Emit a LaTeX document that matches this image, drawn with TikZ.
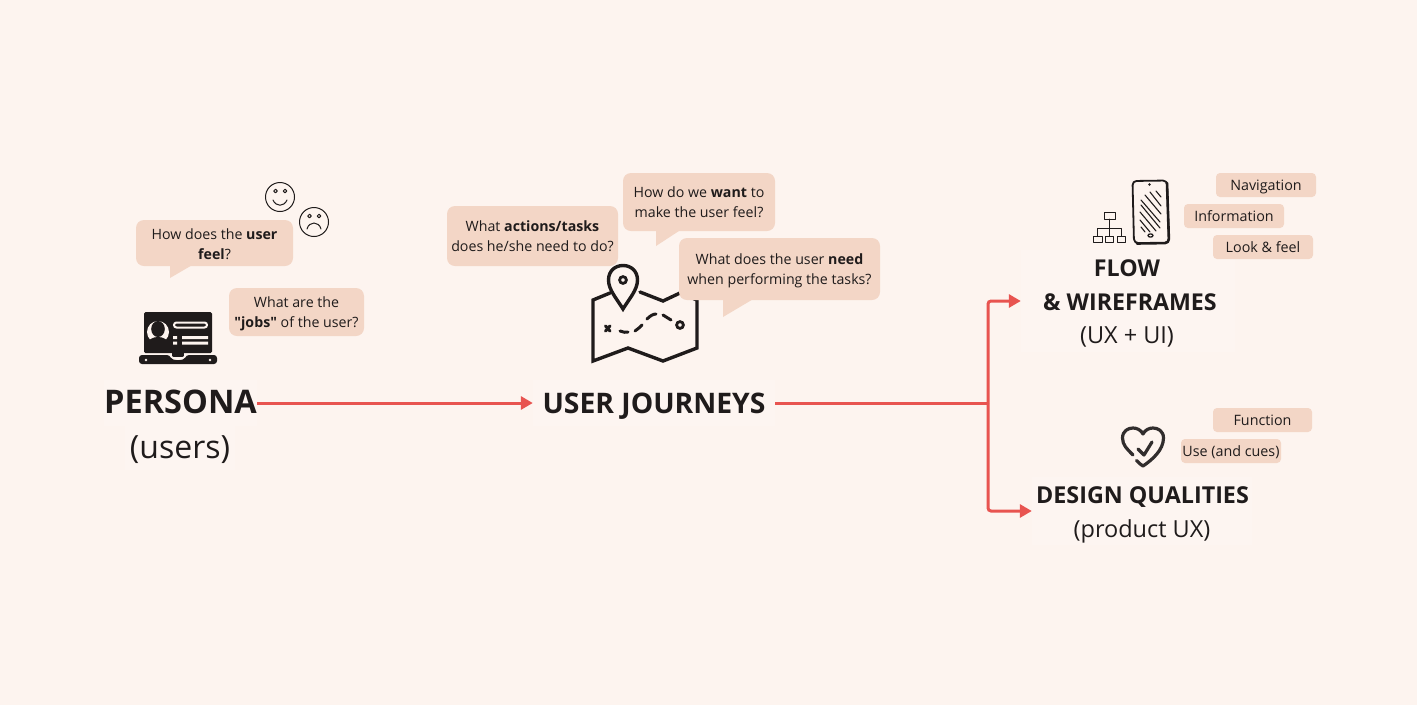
\documentclass[tikz,border=0pt]{standalone}
\usepackage{fontspec}
\setmainfont{Open Sans}[Ligatures=TeXOff]
\usetikzlibrary{arrows.meta}
\definecolor{pagebg}{HTML}{FDF4EF}
\definecolor{softbg}{HTML}{FDF5F1}
\definecolor{bub}{HTML}{F3D6C6}
\definecolor{ink}{HTML}{1F1B1B}
\definecolor{arrowred}{HTML}{E85450}
\newcommand{\fs}[2]{\fontsize{#1}{#2}\selectfont}
\newcommand{\up}[1]{\rule{0pt}{#1pt}}
\tikzset{
  x=1pt,y=-1pt,
  bubble/.style={fill=bub,rounded corners=8pt,inner sep=0pt,align=center,text=ink,font=\fs{14.2}{20}},
  tag/.style={fill=bub,rounded corners=4pt,inner sep=0pt,align=center,text=ink,font=\fs{14.3}{18},minimum width=100pt,minimum height=24pt,text height=13pt,text depth=3pt},
  tail/.style={fill=bub},
  titlebox/.style={fill=softbg,inner sep=0pt,align=center,text=ink},
  titletext/.style={inner sep=0pt,anchor=base,text=ink},
  flowline/.style={draw=arrowred,line width=3pt},
  flowarrow/.style={flowline,-{Triangle[length=12pt,width=13pt]}},
  icon/.style={draw=ink,line width=1.3pt,line cap=round,line join=round},
  mapline/.style={draw=ink,line width=3.4pt,line join=miter,line cap=round},
}
\begin{document}
\begin{tikzpicture}
\useasboundingbox (0,0) rectangle (1417,705);
\fill[pagebg] (0,0) rectangle (1417,705);

% ---- titles
\node[titlebox,minimum width=153pt,minimum height=46pt,font=\fs{32.5}{40}\bfseries,text height=25pt,text depth=3.8pt] (persona) at (180.5,403) {PERSONA};
\node[titlebox,minimum width=110pt,minimum height=44pt,font=\fs{32}{40},text height=26pt,text depth=6pt] (personasub) at (180,448) {(users)};
\node[titlebox,minimum width=242pt,minimum height=46pt,font=\fs{28.3}{34}\bfseries,text height=24pt,text depth=4pt] (journeys) at (654,403) {USER JOURNEYS};
\node[titlebox,minimum width=214pt,minimum height=102pt] (flow) at (1128,301) {};
\node[titletext,font=\fs{23.2}{30}\bfseries] (flowa) at (1127,276.5) {FLOW};
\node[titletext,font=\fs{23.2}{30}\bfseries] (flowb) at (1130,310.5) {\&~WIREFRAMES};
\node[titletext,font=\fs{23.5}{30}] (flowc) at (1127,343.5) {(UX + UI)};
\node[titlebox,minimum width=220pt,minimum height=68pt] (design) at (1142,511) {};
\node[titletext,font=\fs{23.3}{30}\bfseries] (designa) at (1142.5,503) {DESIGN QUALITIES};
\node[titletext,font=\fs{23.5}{30}] (designb) at (1142,537) {(product UX)};

% ---- connectors
\coordinate (junction) at (988,403);
\draw[flowarrow] (persona.east) -- (journeys.west);
\draw[flowline] (journeys.east) -- (junction);
\draw[flowarrow,rounded corners=3pt] (junction) |- (flow.west);
\draw[flowarrow,rounded corners=3pt] (junction) |- (design.west);

% ---- persona: smileys
\begin{scope}[icon,line width=1pt]
\draw (280,197) circle (14.5);
\draw (275.5,191) circle (1.8) (285,191) circle (1.8);
\draw (273,200) .. controls (276,207) and (284,207) .. (287,200);
\draw (314,222) circle (14.5);
\draw (309.5,216) circle (1.8) (319,216) circle (1.8);
\draw (307,229) .. controls (309,221) and (319,221) .. (321,229);
\end{scope}

% ---- persona: bubbles
\fill[tail] (170,262) -- (170,278) -- (194,264) -- cycle;
\node[bubble,minimum width=157pt,minimum height=46pt] (b1) at (214.5,243) {\up{13}How does the \textbf{user}\\\textbf{feel}?};
\node[bubble,minimum width=135pt,minimum height=48pt] (b2) at (296.5,312) {\up{15}What are the\\\textbf{"jobs"} of the user?};

% ---- persona: laptop icon
\fill[ink,rounded corners=1.5pt] (144,312) rectangle (212,353);
\fill[ink,rounded corners=3pt] (139,355) -- (170,355) .. controls (172,361) and (184,361) .. (186,355) -- (217,355) -- (217,364) -- (139,364) -- cycle;
\fill[ink] (172,351) rectangle (184,357);
\draw[pagebg,line width=1.3pt] (170,354.5) .. controls (172,360) and (184,360) .. (186,354.5);
\fill[pagebg] (146,360) circle (1.4) (210,360) circle (1.4);
\fill[pagebg] (158,332) circle (11);
\fill[ink] (158,329) ellipse (6.8 and 8);
\fill[ink] (146,346) .. controls (148,339) and (153,337) .. (158,337) .. controls (163,337) and (168,339) .. (170,346) -- cycle;
\draw[pagebg,line width=2pt,rounded corners=2.5pt,fill=ink] (174,322.5) rectangle (207,327.5);
\fill[pagebg] (173,336) rectangle (177,339) (173,341.5) rectangle (177,344.5);
\fill[pagebg] (182,336) rectangle (208,339) (182,341.5) rectangle (208,344.5);

% ---- journey: map icon
\draw[mapline] (640,292) -- (663,301) -- (680,293) -- (697,300) -- (697,348) -- (663,361) -- (628,348) -- (593,361) -- (593,300) -- (610,293);
\draw[draw=ink,line width=3.4pt,fill=pagebg,line join=miter] (623,309) .. controls (617,299) and (608.5,290) .. (608.5,280) .. controls (608.5,271) and (615,265.5) .. (623,265.5) .. controls (631,265.5) and (637.5,271) .. (637.5,280) .. controls (637.5,290) and (629,299) .. (623,309) -- cycle;
\draw[ink,line width=2.8pt] (623,280) circle (3.4);
\draw[ink,line width=3pt,line cap=round] (605.5,326) -- (610,331) (610,326) -- (605.5,331);
\draw[ink,line width=3pt,line cap=round] (620,331) .. controls (623,332.5) and (626,332.5) .. (628,332);
\draw[ink,line width=3pt,line cap=round] (635,331) .. controls (638,329) and (640,327) .. (642,325);
\draw[ink,line width=3pt,line cap=round] (647,319) .. controls (650,316) and (653,314) .. (656,314);
\draw[ink,line width=3pt,line cap=round] (663,315) -- (671,320);
\draw[ink,line width=2.8pt] (680,325) circle (3.4);

% ---- journey: bubbles
\node[bubble,minimum width=171pt,minimum height=60pt] (b3) at (532.5,236) {What \textbf{actions/tasks}\\does he/she need to do?};
\fill[tail] (656,227) -- (656,246) -- (682,229) -- cycle;
\node[bubble,minimum width=152pt,minimum height=58pt] (b4) at (699,202) {How do we \textbf{want} to\\make the user feel?};
\fill[tail] (723,296) -- (723,317) -- (755,298) -- cycle;
\node[bubble,minimum width=201pt,minimum height=62pt] (b5) at (779.5,269) {\up{15}What does the user \textbf{need}\\when performing the tasks?};

% ---- flow icons
\begin{scope}[icon]
\draw[line width=1pt] (1104,212) rectangle (1115,219);
\draw[line width=1pt] (1093,236) rectangle (1102,242.5) (1105,236) rectangle (1113.5,242.5) (1117,236) rectangle (1125,242.5);
\draw[line width=1pt] (1109.5,219) -- (1109.5,236) (1097.5,236) -- (1097.5,228) -- (1121,228) -- (1121,236);
\draw[line width=1.8pt,rounded corners=4pt] (1132.5,181) -- (1167,180.5) -- (1169,243) -- (1134,243) -- cycle;
\draw[line width=2.6pt,rounded corners=4pt] (1167,183) -- (1169,243) -- (1137,243.5);
\fill[ink] (1149.5,184.5) circle (1.3);
\draw (1150.5,235.5) ellipse (2.5 and 1.6);
\draw[line width=1.1pt]
 (1141,200) -- (1160,222)
 (1141,205) -- (1160,228)
 (1140,212) -- (1156,231)
 (1140,220) -- (1150,232)
 (1141,227) -- (1145,232)
 (1145,195) -- (1161,214)
 (1150,192) -- (1161,206)
 (1156,191) -- (1161,197);
\end{scope}

% ---- tags
\node[tag] (navigation) at (1266,185) {Navigation};
\node[tag] (information) at (1234,216) {Information};
\node[tag] (lookfeel) at (1263,247) {Look \& feel};
\node[tag,minimum width=99pt] (function) at (1262.5,420) {Function};
\node[tag] (use) at (1231,451) {Use (and cues)};

% ---- heart icon
\begin{scope}[draw=ink!92,line width=3.2pt,line cap=round,line join=round]
\draw (1133,455) .. controls (1127,449) and (1122.5,445) .. (1122.5,438) .. controls (1122.5,431) and (1128,428) .. (1133,428) .. controls (1137,428) and (1141,430) .. (1143,434) .. controls (1145,430) and (1149,428) .. (1153,428) .. controls (1158,428) and (1163.5,431) .. (1163.5,438) .. controls (1163.5,450) and (1152,460) .. (1143,466) .. controls (1141,465) and (1139,463) .. (1136.5,460.5);
\draw (1138,449) -- (1144,455) -- (1152,442);
\end{scope}
\end{tikzpicture}
\end{document}
